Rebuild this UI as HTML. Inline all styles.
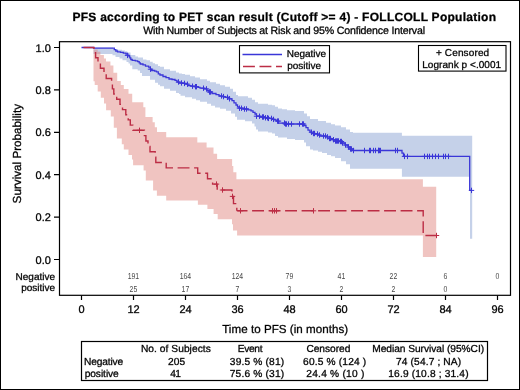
<!DOCTYPE html>
<html><head><meta charset="utf-8"><title>PFS according to PET scan result</title>
<style>
html,body{margin:0;padding:0;background:#fff;}
body{position:relative;width:520px;height:390px;overflow:hidden;font-family:"Liberation Sans", sans-serif;}
svg{display:block;will-change:transform;}
#plot{position:absolute;left:0;top:0;}
#frame{position:absolute;left:0;top:0;width:518px;height:388px;border:1px solid #000;}
text{stroke-width:0.4px;stroke-opacity:0.7;text-rendering:geometricPrecision;}
</style></head><body>
<svg id="plot" width="520" height="390" viewBox="0 0 520 390">
<rect x="0" y="0" width="520" height="390" fill="#fff"/>
<path d="M93.5 47.6 L113 47.6 L113 48.9 L118 48.9 L118 49.7 L122 49.7 L122 50.4 L125 50.4 L125 51.2 L127.3 51.2 L127.3 52.6 L130.5 52.6 L130.5 55.1 L135.3 55.1 L135.3 56.6 L138 56.6 L138 57.6 L143 57.6 L143 59.4 L146.5 59.4 L146.5 60.3 L150 60.3 L150 61.7 L152.7 61.7 L152.7 63.3 L155 63.3 L155 64.3 L158 64.3 L158 65.9 L160 65.9 L160 66.7 L164 66.7 L164 69.3 L170 69.3 L170 70.8 L176 70.8 L176 72.4 L179 72.4 L179 73.4 L182 73.4 L182 73.9 L185 73.9 L185 74.7 L190 74.7 L190 76.3 L195 76.3 L195 77.5 L200 77.5 L200 79.2 L207 79.2 L207 80.7 L210 80.7 L210 82.3 L216 82.3 L216 83.8 L220 83.8 L220 85.2 L225 85.2 L225 86.7 L230 86.7 L230 88.8 L233 88.8 L233 91.8 L236 91.8 L236 94.9 L238 94.9 L238 96.2 L248 96.2 L248 97.7 L252 97.7 L252 99.8 L255 99.8 L255 102.2 L258 102.2 L258 103.7 L268 103.7 L268 104.8 L272 104.8 L272 105.3 L275 105.3 L275 106.7 L278 106.7 L278 108.4 L282 108.4 L282 109.2 L287 109.2 L287 110.3 L295 110.3 L295 111 L304 111 L304 113.6 L307 113.6 L307 116.2 L310 116.2 L310 118.9 L318 118.9 L318 120.9 L326 120.9 L326 122.8 L331 122.8 L331 124.3 L335 124.3 L335 125.5 L341 125.5 L341 127.3 L346 127.3 L346 129.6 L350 129.6 L350 131.9 L353 131.9 L353 132.7 L401.9 132.7 L401.9 135.8 L472.2 135.8 L472.2 238.8 L470 238.8 L470 176.7 L401.9 176.7 L401.9 168.8 L350 168.8 L350 164.2 L346 164.2 L346 161.2 L341 161.2 L341 158.1 L335 158.1 L335 156.2 L331 156.2 L331 154.9 L327 154.9 L327 153 L322 153 L322 151.7 L318 151.7 L318 150.5 L313 150.5 L313 149.5 L310 149.5 L310 146.3 L306 146.3 L306 142.5 L304 142.5 L304 139.9 L295 139.9 L295 139 L287 139 L287 137.4 L278 137.4 L278 135.9 L275 135.9 L275 133.5 L272 133.5 L272 132.5 L268 132.5 L268 131.4 L258 131.4 L258 129.4 L256 129.4 L256 126.5 L254.5 126.5 L254.5 123.4 L252 123.4 L252 121.3 L245 121.3 L245 119.8 L237 119.8 L237 116.7 L235 116.7 L235 113.4 L231 113.4 L231 110.8 L226 110.8 L226 108.8 L220 108.8 L220 107.4 L215 107.4 L215 105.8 L211 105.8 L211 103.8 L207 103.8 L207 101.7 L200 101.7 L200 100.2 L196 100.2 L196 98.8 L192 98.8 L192 97.3 L185 97.3 L185 95.8 L180.5 95.8 L180.5 94 L179 94 L179 92.9 L176 92.9 L176 90.8 L170 90.8 L170 88.8 L164 88.8 L164 86.2 L160 86.2 L160 84.8 L158 84.8 L158 82.8 L155 82.8 L155 79.7 L150 79.7 L150 76.1 L142 76.1 L142 73 L140 73 L140 70.6 L137.7 70.6 L137.7 69.2 L132.3 69.2 L132.3 65.4 L130 65.4 L130 63.5 L128.5 63.5 L128.5 62 L126.5 62 L126.5 60.3 L122.5 60.3 L122.5 58.5 L119.5 58.5 L119.5 57 L115.5 57 L115.5 55.3 L112.5 55.3 L112.5 54 L93.5 54 Z" fill="#c5d1e9"/>
<path d="M93.5 49.5 L97.7 49.5 L97.7 51.7 L100.4 51.7 L100.4 55 L103.9 55 L103.9 58.4 L106 58.4 L106 61.5 L110.4 61.5 L110.4 65.5 L113.4 65.5 L113.4 72.7 L117.2 72.7 L117.2 80.9 L120.8 80.9 L120.8 85 L123.8 85 L123.8 89 L128.5 89 L128.5 93.7 L132.2 93.7 L132.2 102.3 L143.3 102.3 L143.3 107.3 L145.4 107.3 L145.4 117 L152.6 117 L152.6 122.2 L154.8 122.2 L154.8 127.2 L157 127.2 L157 132.1 L166.2 132.1 L166.2 137.3 L197.3 137.3 L197.3 142.4 L206.6 142.4 L206.6 147.6 L213.5 147.6 L213.5 153.8 L217.1 153.8 L217.1 159 L232.1 159 L232.1 166 L233.3 166 L233.3 172.3 L236.4 172.3 L236.4 179.2 L422.9 179.2 L422.9 186.8 L436.2 186.8 L436.2 256.9 L422.9 256.9 L422.9 235.6 L237.1 235.6 L237.1 230.5 L233 230.5 L233 224.3 L232 224.3 L232 219.2 L217.7 219.2 L217.7 214 L213.6 214 L213.6 208.9 L207.4 208.9 L207.4 204.8 L197.9 204.8 L197.9 200.5 L166.2 200.5 L166.2 195.8 L156.9 195.8 L156.9 190.4 L153.1 190.4 L153.1 180.4 L145.8 180.4 L145.8 170.5 L143.6 170.5 L143.6 165.3 L133.1 165.3 L133.1 159.6 L132 159.6 L132 155 L128.5 155 L128.5 149.4 L123.8 149.4 L123.8 144.2 L121.8 144.2 L121.8 138.6 L116.9 138.6 L116.9 127.7 L113.8 127.7 L113.8 116.4 L110.8 116.4 L110.8 110.3 L106.1 110.3 L106.1 103.5 L104 103.5 L104 97.7 L100.8 97.7 L100.8 91.5 L97.7 91.5 L97.7 84.9 L94.7 84.9 L94.7 81.3 L93.5 81.3 Z" fill="#e18983" fill-opacity="0.5"/>
<path d="M81.5 47.5 L93.5 47.5 L93.5 48.2 L114.3 48.2 L114.3 49.7 L115.8 49.7 L115.8 51 L117.5 51 L117.5 51.8 L120.5 51.8 L120.5 52.4 L123.3 52.4 L123.3 53.2 L126 53.2 L126 54 L127.8 54 L127.8 55.4 L129 55.4 L129 56.5 L129.8 56.5 L129.8 57.8 L130.8 57.8 L130.8 59.5 L132.2 59.5 L132.2 60.3 L135.3 60.3 L135.3 60.8 L137.7 60.8 L137.7 61.7 L139.2 61.7 L139.2 62.9 L140.3 62.9 L140.3 64 L143 64 L143 64.9 L145.5 64.9 L145.5 66.2 L148.6 66.2 L148.6 67.2 L150.3 67.2 L150.3 69.2 L151.7 69.2 L151.7 70.5 L154.7 70.5 L154.7 71.1 L156.5 71.1 L156.5 71.8 L158.3 71.8 L158.3 73.8 L160 73.8 L160 75 L163 75 L163 76.5 L166 76.5 L166 77.7 L169 77.7 L169 79 L172 79 L172 79.5 L175 79.5 L175 80.3 L177 80.3 L177 82 L179 82 L179 83 L183 83 L183 83.4 L186 83.4 L186 84.2 L188 84.2 L188 85.6 L191 85.6 L191 86.2 L195 86.2 L195 86.7 L198 86.7 L198 87.3 L200 87.3 L200 88.2 L204 88.2 L204 88.9 L207 88.9 L207 90.5 L209 90.5 L209 92 L212 92 L212 93.5 L216 93.5 L216 94.6 L219 94.6 L219 96 L222 96 L222 96.6 L225 96.6 L225 97.3 L229 97.3 L229 98.8 L232 98.8 L232 100.6 L234 100.6 L234 102.8 L236 102.8 L236 105 L237.5 105 L237.5 106.8 L239 106.8 L239 108.2 L243 108.2 L243 109 L248 109 L248 109.8 L251 109.8 L251 110.8 L253 110.8 L253 112.4 L255 112.4 L255 114 L256.5 114 L256.5 116.2 L260 116.2 L260 117 L265 117 L265 117.8 L268 117.8 L268 118.4 L272 118.4 L272 119.4 L275 119.4 L275 120.1 L277 120.1 L277 121.1 L278.5 121.1 L278.5 123.1 L285 123.1 L285 124 L304 124 L304 125.5 L306 125.5 L306 127.6 L308 127.6 L308 130.1 L310 130.1 L310 132.2 L312 132.2 L312 133.5 L315 133.5 L315 134 L318 134 L318 135 L320 135 L320 136 L326 136 L326 136.9 L328 136.9 L328 138.5 L331 138.5 L331 139.7 L335 139.7 L335 141 L339 141 L339 141.5 L342 141.5 L342 143 L345 143 L345 145 L348 145 L348 147 L350 147 L350 149 L352 149 L352 150.5 L402 150.5 L402 153.2 L403.5 153.2 L403.5 156.4 L469.7 156.4 L469.7 190.4 L472 190.4" fill="none" stroke="#3a36d8" stroke-width="1.3"/>
<path d="M124.8 55.4H130.2M127.5 52.7V58.1M147.8 69.2H153.2M150.5 66.5V71.9M175.8 82H181.2M178.5 79.3V84.7M178.8 83H184.2M181.5 80.3V85.7M181.8 83.4H187.2M184.5 80.7V86.1M184.8 84.2H190.2M187.5 81.5V86.9M189.8 86.2H195.2M192.5 83.5V88.9M192.8 86.7H198.2M195.5 84V89.4M193.8 86.7H199.2M196.5 84V89.4M200.8 88.2H206.2M203.5 85.5V90.9M203.8 88.9H209.2M206.5 86.2V91.6M206.8 92H212.2M209.5 89.3V94.7M207.8 92H213.2M210.5 89.3V94.7M218.8 96H224.2M221.5 93.3V98.7M220.8 96.6H226.2M223.5 93.9V99.3M224.8 97.3H230.2M227.5 94.6V100M226.8 98.8H232.2M229.5 96.1V101.5M236.8 108.2H242.2M239.5 105.5V110.9M238.8 108.2H244.2M241.5 105.5V110.9M241.8 109H247.2M244.5 106.3V111.7M243.8 109H249.2M246.5 106.3V111.7M253.8 116.2H259.2M256.5 113.5V118.9M256.8 116.2H262.2M259.5 113.5V118.9M259.8 117H265.2M262.5 114.3V119.7M260.8 117H266.2M263.5 114.3V119.7M262.8 117.8H268.2M265.5 115.1V120.5M264.8 117.8H270.2M267.5 115.1V120.5M265.8 118.4H271.2M268.5 115.7V121.1M268.8 118.4H274.2M271.5 115.7V121.1M270.8 119.4H276.2M273.5 116.7V122.1M274.8 121.1H280.2M277.5 118.4V123.8M275.8 121.1H281.2M278.5 118.4V123.8M281.8 123.1H287.2M284.5 120.4V125.8M282.8 124H288.2M285.5 121.3V126.7M283.8 124H289.2M286.5 121.3V126.7M285.8 124H291.2M288.5 121.3V126.7M288.8 124H294.2M291.5 121.3V126.7M296.8 124H302.2M299.5 121.3V126.7M299.8 124H305.2M302.5 121.3V126.7M300.8 124H306.2M303.5 121.3V126.7M308.8 132.2H314.2M311.5 129.5V134.9M310.8 133.5H316.2M313.5 130.8V136.2M311.8 133.5H317.2M314.5 130.8V136.2M314.8 134H320.2M317.5 131.3V136.7M316.8 135H322.2M319.5 132.3V137.7M320.8 136H326.2M323.5 133.3V138.7M322.8 136H328.2M325.5 133.3V138.7M324.8 136.9H330.2M327.5 134.2V139.6M326.8 138.5H332.2M329.5 135.8V141.2M327.8 138.5H333.2M330.5 135.8V141.2M330.8 139.7H336.2M333.5 137V142.4M332.8 141H338.2M335.5 138.3V143.7M333.8 141H339.2M336.5 138.3V143.7M334.8 141H340.2M337.5 138.3V143.7M335.8 141H341.2M338.5 138.3V143.7M337.8 141.5H343.2M340.5 138.8V144.2M338.8 141.5H344.2M341.5 138.8V144.2M339.8 143H345.2M342.5 140.3V145.7M342.8 145H348.2M345.5 142.3V147.7M345.8 147H351.2M348.5 144.3V149.7M347.8 149H353.2M350.5 146.3V151.7M348.8 149H354.2M351.5 146.3V151.7M350.8 150.5H356.2M353.5 147.8V153.2M361.8 150.5H367.2M364.5 147.8V153.2M366.8 150.5H372.2M369.5 147.8V153.2M367.8 150.5H373.2M370.5 147.8V153.2M370.8 150.5H376.2M373.5 147.8V153.2M372.8 150.5H378.2M375.5 147.8V153.2M375.8 150.5H381.2M378.5 147.8V153.2M375.8 150.5H381.2M378.5 147.8V153.2M376.8 150.5H382.2M379.5 147.8V153.2M377.8 150.5H383.2M380.5 147.8V153.2M392.8 150.5H398.2M395.5 147.8V153.2M394.8 150.5H400.2M397.5 147.8V153.2M401.8 156.4H407.2M404.5 153.7V159.1M404.8 156.4H410.2M407.5 153.7V159.1M421.8 156.4H427.2M424.5 153.7V159.1M424.8 156.4H430.2M427.5 153.7V159.1M426.8 156.4H432.2M429.5 153.7V159.1M429.8 156.4H435.2M432.5 153.7V159.1M432.8 156.4H438.2M435.5 153.7V159.1M435.8 156.4H441.2M438.5 153.7V159.1M440.8 156.4H446.2M443.5 153.7V159.1M442.8 156.4H448.2M445.5 153.7V159.1M445.8 156.4H451.2M448.5 153.7V159.1M468.8 190.4H474.2M471.5 187.7V193.1" fill="none" stroke="#3a36d8" stroke-width="1"/>
<path d="M81.5 47.5 L94 47.5 L94 52.7 L95.6 52.7 L95.6 57.8 L98 57.8 L98 63 L100.4 63 L100.4 68.2 L104 68.2 L104 73.4 L106.2 73.4 L106.2 78.5 L111.6 78.5 L111.6 83.7 L112.4 83.7 L112.4 88.9 L113.8 88.9 L113.8 94 L116.7 94 L116.7 99.2 L120 99.2 L120 104.4 L122.5 104.4 L122.5 109.6 L125.8 109.6 L125.8 114.7 L128.2 114.7 L128.2 119.9 L130.3 119.9 L130.3 125.1 L132.8 125.1 L132.8 130.3 L144.4 130.3 L144.4 135.6 L145.9 135.6 L145.9 141 L148 141 L148 146.4 L150 146.4 L150 151.8 L155.2 151.8 L155.2 157.2 L155.8 157.2 L155.8 162.5 L166.2 162.5 L166.2 167.9 L197.7 167.9 L197.7 173.3 L207.5 173.3 L207.5 178.7 L212.6 178.7 L212.6 184.1 L217.2 184.1 L217.2 190 L231.9 190 L231.9 196.4 L233.5 196.4 L233.5 203.6 L236.8 203.6 L236.8 210.8 L236.8 210.8" fill="none" stroke="#bc2d45" stroke-width="1.4" stroke-dasharray="11.9 4.6" stroke-dashoffset="-2"/>
<path d="M236.8 210.8 H423.2 V235.5 H436.6" fill="none" stroke="#bc2d45" stroke-width="1.4" stroke-dasharray="11.9 4.6" stroke-dashoffset="1.2"/>
<path d="M136.8 130.3H142.2M139.5 127.6V133M213.8 184.1H219.2M216.5 181.4V186.8M219.8 190H225.2M222.5 187.3V192.7M229.8 196.4H235.2M232.5 193.7V199.1M237.8 210.8H243.2M240.5 208.1V213.5M269.8 210.8H275.2M272.5 208.1V213.5M271.8 210.8H277.2M274.5 208.1V213.5M273.8 210.8H279.2M276.5 208.1V213.5M310.8 210.8H316.2M313.5 208.1V213.5M433.8 235.5H439.2M436.5 232.8V238.2" fill="none" stroke="#bc2d45" stroke-width="1"/>
<rect x="59.5" y="41.7" width="451" height="253.6" fill="none" stroke="#000" stroke-width="1.2"/>
<path d="M54 259.5H59.5M54 217.1H59.5M54 174.7H59.5M54 132.3H59.5M54 89.9H59.5M54 47.5H59.5" stroke="#000" stroke-width="1.2"/>
<path d="M81.5 295.5V300M133.5 295.5V300M185.5 295.5V300M237.5 295.5V300M289.5 295.5V300M341.5 295.5V300M393.5 295.5V300M445.5 295.5V300M497.5 295.5V300" stroke="#000" stroke-width="1.2"/>
<g font-family='Liberation Sans, sans-serif'>
<text x="50.9" y="263.5" font-size="11" text-anchor="end" font-weight="normal" fill="#000" stroke="#000">0.0</text>
<text x="50.9" y="221.1" font-size="11" text-anchor="end" font-weight="normal" fill="#000" stroke="#000">0.2</text>
<text x="50.9" y="178.7" font-size="11" text-anchor="end" font-weight="normal" fill="#000" stroke="#000">0.4</text>
<text x="50.9" y="136.3" font-size="11" text-anchor="end" font-weight="normal" fill="#000" stroke="#000">0.6</text>
<text x="50.9" y="93.9" font-size="11" text-anchor="end" font-weight="normal" fill="#000" stroke="#000">0.8</text>
<text x="50.9" y="51.5" font-size="11" text-anchor="end" font-weight="normal" fill="#000" stroke="#000">1.0</text>
<text x="81.5" y="313.1" font-size="11" text-anchor="middle" font-weight="normal" fill="#000" stroke="#000">0</text>
<text x="133.5" y="313.1" font-size="11" text-anchor="middle" font-weight="normal" fill="#000" stroke="#000">12</text>
<text x="185.5" y="313.1" font-size="11" text-anchor="middle" font-weight="normal" fill="#000" stroke="#000">24</text>
<text x="237.5" y="313.1" font-size="11" text-anchor="middle" font-weight="normal" fill="#000" stroke="#000">36</text>
<text x="289.5" y="313.1" font-size="11" text-anchor="middle" font-weight="normal" fill="#000" stroke="#000">48</text>
<text x="341.5" y="313.1" font-size="11" text-anchor="middle" font-weight="normal" fill="#000" stroke="#000">60</text>
<text x="393.5" y="313.1" font-size="11" text-anchor="middle" font-weight="normal" fill="#000" stroke="#000">72</text>
<text x="445.5" y="313.1" font-size="11" text-anchor="middle" font-weight="normal" fill="#000" stroke="#000">84</text>
<text x="497.5" y="313.1" font-size="11" text-anchor="middle" font-weight="normal" fill="#000" stroke="#000">96</text>
<text x="222.15" y="333.4" font-size="11.6" font-weight="normal" fill="#000" stroke="#000" textLength="125.97" lengthAdjust="spacing">Time to PFS (in months)</text>
<text transform="translate(20.8 153.7) rotate(-90)" x="0" y="0" font-size="11.7" text-anchor="middle" fill="#000" stroke="#000">Survival Probability</text>
<text x="72.4" y="20.5" font-size="12" font-weight="bold" fill="#000" stroke="#000" textLength="423.62" lengthAdjust="spacing">PFS according to PET scan result (Cutoff &gt;= 4) - FOLLCOLL Population</text>
<text x="143.25" y="33.5" font-size="10.6" font-weight="normal" fill="#000" stroke="#000" textLength="281.74" lengthAdjust="spacing">With Number of Subjects at Risk and 95% Confidence Interval</text>
<rect x="239.5" y="45.6" width="90" height="27.3" fill="#fff" stroke="#000" stroke-width="1.1"/>
<path d="M242.5 54.5H282" stroke="#3a36d8" stroke-width="1.3"/>
<path d="M243 66.5H282" stroke="#bc2d45" stroke-width="1.4" stroke-dasharray="11.9 4.6"/>
<text x="286.7" y="57.3" font-size="10" font-weight="normal" fill="#000" stroke="#000" textLength="39.37" lengthAdjust="spacing">Negative</text>
<text x="287.15" y="68.5" font-size="10" font-weight="normal" fill="#000" stroke="#000" textLength="34.01" lengthAdjust="spacing">positive</text>
<rect x="418.5" y="45.5" width="87.5" height="25.6" fill="#fff" stroke="#000" stroke-width="1.1"/>
<text x="435.9" y="55.5" font-size="10" font-weight="normal" fill="#000" stroke="#000" textLength="53.28" lengthAdjust="spacing">+ Censored</text>
<text x="422.2" y="68.2" font-size="10" font-weight="normal" fill="#000" stroke="#000" textLength="78.97" lengthAdjust="spacing">Logrank p &lt;.0001</text>
<text x="15.5" y="279.9" font-size="10" font-weight="normal" fill="#000" stroke="#000" textLength="39.67" lengthAdjust="spacing">Negative</text>
<text x="21.15" y="291.3" font-size="10" font-weight="normal" fill="#000" stroke="#000" textLength="34.01" lengthAdjust="spacing">positive</text>
<text x="133.4" y="279.1" font-size="8.6" text-anchor="middle" fill="#4a4a4a" stroke="none" textLength="11.48" lengthAdjust="spacingAndGlyphs">191</text>
<text x="133.4" y="291.6" font-size="8.6" text-anchor="middle" fill="#4a4a4a" stroke="none" textLength="7.66" lengthAdjust="spacingAndGlyphs">25</text>
<text x="185.4" y="279.1" font-size="8.6" text-anchor="middle" fill="#4a4a4a" stroke="none" textLength="11.48" lengthAdjust="spacingAndGlyphs">164</text>
<text x="185.4" y="291.6" font-size="8.6" text-anchor="middle" fill="#4a4a4a" stroke="none" textLength="7.66" lengthAdjust="spacingAndGlyphs">17</text>
<text x="237.4" y="279.1" font-size="8.6" text-anchor="middle" fill="#4a4a4a" stroke="none" textLength="11.48" lengthAdjust="spacingAndGlyphs">124</text>
<text x="237.4" y="291.6" font-size="8.6" text-anchor="middle" fill="#4a4a4a" stroke="none" textLength="3.82" lengthAdjust="spacingAndGlyphs">7</text>
<text x="289.4" y="279.1" font-size="8.6" text-anchor="middle" fill="#4a4a4a" stroke="none" textLength="7.66" lengthAdjust="spacingAndGlyphs">79</text>
<text x="289.4" y="291.6" font-size="8.6" text-anchor="middle" fill="#4a4a4a" stroke="none" textLength="3.82" lengthAdjust="spacingAndGlyphs">3</text>
<text x="341.4" y="279.1" font-size="8.6" text-anchor="middle" fill="#4a4a4a" stroke="none" textLength="7.66" lengthAdjust="spacingAndGlyphs">41</text>
<text x="341.4" y="291.6" font-size="8.6" text-anchor="middle" fill="#4a4a4a" stroke="none" textLength="3.82" lengthAdjust="spacingAndGlyphs">2</text>
<text x="393.4" y="279.1" font-size="8.6" text-anchor="middle" fill="#4a4a4a" stroke="none" textLength="7.66" lengthAdjust="spacingAndGlyphs">22</text>
<text x="393.4" y="291.6" font-size="8.6" text-anchor="middle" fill="#4a4a4a" stroke="none" textLength="3.82" lengthAdjust="spacingAndGlyphs">2</text>
<text x="445.4" y="279.1" font-size="8.6" text-anchor="middle" fill="#4a4a4a" stroke="none" textLength="3.82" lengthAdjust="spacingAndGlyphs">6</text>
<text x="445.4" y="291.6" font-size="8.6" text-anchor="middle" fill="#4a4a4a" stroke="none" textLength="3.82" lengthAdjust="spacingAndGlyphs">0</text>
<text x="497.4" y="279.1" font-size="8.6" text-anchor="middle" fill="#4a4a4a" stroke="none" textLength="3.82" lengthAdjust="spacingAndGlyphs">0</text>
<rect x="81.5" y="341.5" width="406" height="39" fill="none" stroke="#000" stroke-width="1.2"/>
<text x="140.95" y="351.8" font-size="10.2" font-weight="normal" fill="#000" stroke="#000" textLength="69.82" lengthAdjust="spacing">No. of Subjects</text>
<text x="237.85" y="351.8" font-size="10.2" font-weight="normal" fill="#000" stroke="#000" textLength="24.63" lengthAdjust="spacing">Event</text>
<text x="306.4" y="351.8" font-size="10.2" font-weight="normal" fill="#000" stroke="#000" textLength="43.98" lengthAdjust="spacing">Censored</text>
<text x="372.2" y="351.8" font-size="10.2" font-weight="normal" fill="#000" stroke="#000" textLength="111.91" lengthAdjust="spacing">Median Survival (95%CI)</text>
<text x="84.05" y="364.6" font-size="10.2" font-weight="normal" fill="#000" stroke="#000" textLength="39.11" lengthAdjust="spacing">Negative</text>
<text x="84.65" y="377" font-size="10.2" font-weight="normal" fill="#000" stroke="#000" textLength="34.13" lengthAdjust="spacing">positive</text>
<text x="167.9" y="364.8" font-size="10.2" font-weight="normal" fill="#000" stroke="#000" textLength="17.22" lengthAdjust="spacing">205</text>
<text x="170.15" y="377.1" font-size="10.2" font-weight="normal" fill="#000" stroke="#000" textLength="10.75" lengthAdjust="spacing">41</text>
<text x="229.8" y="364.7" font-size="10.2" font-weight="normal" fill="#000" stroke="#000" textLength="54.33" lengthAdjust="spacing">39.5 % (81)</text>
<text x="229.7" y="377" font-size="10.2" font-weight="normal" fill="#000" stroke="#000" textLength="54.43" lengthAdjust="spacing">75.6 % (31)</text>
<text x="303.1" y="364.7" font-size="10.2" font-weight="normal" fill="#000" stroke="#000" textLength="63.13" lengthAdjust="spacing">60.5 % (124 )</text>
<text x="306.3" y="377" font-size="10.2" font-weight="normal" fill="#000" stroke="#000" textLength="58.06" lengthAdjust="spacing">24.4 % (10 )</text>
<text x="396.05" y="364.7" font-size="10.2" font-weight="normal" fill="#000" stroke="#000" textLength="65.04" lengthAdjust="spacing">74 (54.7 ; NA)</text>
<text x="388.3" y="377" font-size="10.2" font-weight="normal" fill="#000" stroke="#000" textLength="80.28" lengthAdjust="spacing">16.9 (10.8 ; 31.4)</text>
</g>
</svg>
<div id="frame"></div>
</body></html>
